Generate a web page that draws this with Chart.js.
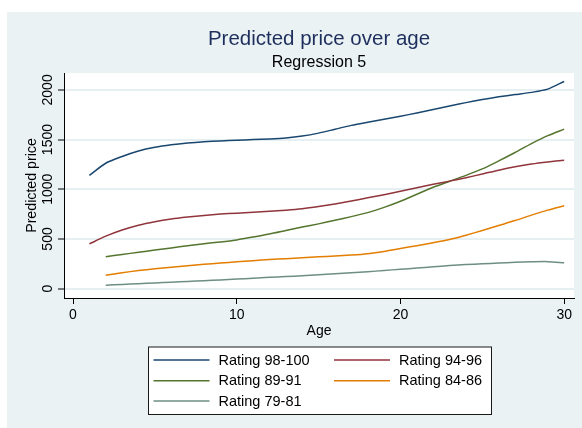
<!DOCTYPE html>
<html>
<head>
<meta charset="utf-8">
<script src="https://cdn.jsdelivr.net/npm/chart.js@4/dist/chart.umd.min.js"></script>
<style>
  html, body { margin: 0; padding: 0; background: #ffffff; }
  #chart { display: block; }
</style>
</head>
<body>
<canvas id="chart" width="582" height="428"></canvas>
<script>
// Predicted price by age for each rating band
const ages = [1, 2, 3, 4, 5, 6, 7, 8, 9, 10, 11, 12, 13, 14, 15,
              16, 17, 18, 19, 20, 21, 22, 23, 24, 25, 26, 27, 28, 29, 30];
const rating98to100 = [1140, 1262, 1330, 1385, 1422, 1447, 1465, 1478, 1487, 1494,
                       1500, 1506, 1516, 1535, 1565, 1604, 1643, 1675, 1705, 1735,
                       1768, 1803, 1838, 1872, 1903, 1930, 1953, 1975, 2008, 2085];
const rating94to96 = [450, 528, 590, 638, 673, 700, 720, 737, 750, 760,
                      769, 778, 789, 804, 826, 852, 882, 914, 945, 980,
                      1015, 1050, 1082, 1117, 1153, 1192, 1226, 1254, 1275, 1292];
const rating89to91 = [null, 322, 344, 366, 388, 410, 432, 452, 470, 490,
                      520, 550, 585, 620, 652, 688, 725, 765, 818, 880,
                      950, 1020, 1080, 1140, 1205, 1285, 1370, 1460, 1540, 1605];
const rating84to86 = [null, 134, 160, 182, 200, 215, 230, 245, 258, 270,
                      282, 293, 302, 312, 320, 328, 338, 352, 375, 405,
                      432, 462, 495, 538, 585, 635, 685, 740, 790, 835];
const rating79to81 = [null, 35, 42, 50, 57, 65, 73, 80, 88, 96,
                      105, 114, 122, 130, 140, 150, 160, 170, 183, 195,
                      208, 220, 232, 242, 250, 258, 265, 270, 272, 260];

const seriesLabels = ['Rating 98-100', 'Rating 94-96', 'Rating 89-91', 'Rating 84-86', 'Rating 79-81'];
const seriesValues = [rating98to100, rating94to96, rating89to91, rating84to86, rating79to81];
const seriesColors = ['#1a476f', '#90353b', '#55752f', '#e37e00', '#6e8e84'];

const xTicks = [0, 10, 20, 30];
const yTicks = [0, 500, 1000, 1500, 2000];

const titleText = 'Predicted price over age';
const subtitleText = 'Regression 5';
const xTitle = 'Age';
const yTitle = 'Predicted price';

const FONT = '"Liberation Sans", Arial, Helvetica, sans-serif';
const BG = '#eaf2f3';

Chart.defaults.font.family = FONT;
Chart.defaults.color = '#000000';

const datasets = seriesLabels.map((label, i) => ({
  label,
  data: ages.map((a, j) => ({ x: a, y: seriesValues[i][j] })),
  borderColor: seriesColors[i],
  backgroundColor: seriesColors[i],
  borderWidth: 1.5,
  pointRadius: 0,
  tension: 0.25,
  fill: false
}));

// Graph region background and white plot region
const backgroundPlugin = {
  id: 'graphBackground',
  beforeDraw(chart) {
    const { ctx, chartArea: a } = chart;
    ctx.save();
    ctx.fillStyle = '#ffffff';
    ctx.fillRect(0, 0, chart.width, chart.height);
    ctx.fillStyle = BG;
    ctx.fillRect(7, 12, chart.width - 7, chart.height - 12);
    ctx.fillStyle = '#ffffff';
    ctx.fillRect(a.left, a.top, a.right - a.left, a.bottom - a.top);
    ctx.restore();
  }
};

// Title and subtitle centred over the plot region
const headingPlugin = {
  id: 'heading',
  afterDraw(chart) {
    const { ctx, chartArea: a } = chart;
    const cx = (a.left + a.right) / 2;
    ctx.save();
    ctx.textAlign = 'center';
    ctx.textBaseline = 'alphabetic';
    ctx.fillStyle = '#1e2f5e';
    ctx.font = '20.5px ' + FONT;
    ctx.fillText(titleText, cx, 44.7);
    ctx.fillStyle = '#000000';
    ctx.font = '16px ' + FONT;
    ctx.fillText(subtitleText, cx, 66.7);
    ctx.restore();
  }
};

// Boxed two-column legend below the axes
const boxLegendPlugin = {
  id: 'boxLegend',
  afterDraw(chart) {
    const { ctx, chartArea: a } = chart;
    const cx = (a.left + a.right) / 2;
    const w = 343, h = 67.5;
    const left = Math.round(cx - w / 2) + 0.5;
    const top = 347;
    ctx.save();
    ctx.fillStyle = '#ffffff';
    ctx.fillRect(left, top, w, h);
    ctx.strokeStyle = '#1a1a1a';
    ctx.lineWidth = 1;
    ctx.strokeRect(left, top, w, h);
    ctx.font = '14.5px ' + FONT;
    ctx.textAlign = 'left';
    ctx.textBaseline = 'middle';
    const rowY = [360, 380.7, 401];
    const colX = [5, 185.5];
    chart.data.datasets.forEach((ds, i) => {
      const col = i % 2, row = Math.floor(i / 2);
      const x0 = left + colX[col];
      const y = rowY[row];
      ctx.strokeStyle = ds.borderColor;
      ctx.lineWidth = 1.5;
      ctx.beginPath();
      ctx.moveTo(x0, y);
      ctx.lineTo(x0 + 56, y);
      ctx.stroke();
      ctx.fillStyle = '#000000';
      ctx.fillText(ds.label, x0 + 65, y + 0.5);
    });
    ctx.restore();
  }
};

new Chart(document.getElementById('chart'), {
  type: 'line',
  data: { datasets },
  plugins: [backgroundPlugin, headingPlugin, boxLegendPlugin],
  options: {
    responsive: false,
    animation: false,
    devicePixelRatio: 1,
    layout: { padding: { left: 0, right: 8, top: 73, bottom: 85 } },
    plugins: {
      legend: { display: false },
      title: { display: false },
      tooltip: { enabled: false }
    },
    scales: {
      x: {
        type: 'linear',
        min: -0.55,
        max: 30.6,
        afterBuildTicks: s => { s.ticks = xTicks.map(v => ({ value: v })); },
        afterFit: s => { s.height = 45; },
        grid: { drawOnChartArea: false, tickColor: '#000000', tickLength: 6, tickWidth: 1 },
        border: { display: true, color: '#000000', width: 1 },
        ticks: { font: { size: 14 }, color: '#000000', padding: 3, maxRotation: 0, callback: v => String(v) },
        title: { display: true, text: xTitle, font: { size: 14 }, color: '#000000', padding: { top: 0, bottom: 3.5 } }
      },
      y: {
        type: 'linear',
        min: -94,
        max: 2170,
        afterBuildTicks: s => { s.ticks = yTicks.map(v => ({ value: v })); },
        afterFit: s => { s.width = 64; },
        grid: { color: '#e6eff1', lineWidth: 2, tickColor: '#000000', tickLength: 6, tickWidth: 1 },
        border: { display: true, color: '#000000', width: 1 },
        ticks: { font: { size: 14 }, color: '#000000', minRotation: 90, maxRotation: 90, crossAlign: 'center', padding: -5.3, callback: v => String(v) },
        title: { display: true, text: yTitle, font: { size: 14.2 }, color: '#000000', padding: { top: 23.3, bottom: 0 } }
      }
    }
  }
});
</script>
</body>
</html>
